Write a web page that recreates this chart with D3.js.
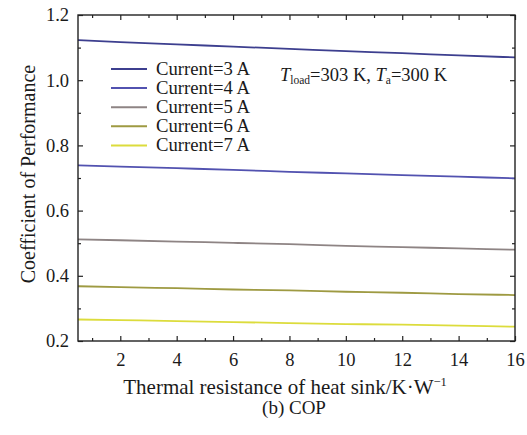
<!DOCTYPE html>
<html>
<head>
<meta charset="utf-8">
<script src="https://cdn.jsdelivr.net/npm/d3@7/dist/d3.min.js"></script>
<style>
  html, body { margin: 0; padding: 0; background: #fff; }
  svg { display: block; }
  svg text { font-family: "Liberation Serif", "Times New Roman", Times, "DejaVu Serif", serif; }
</style>
</head>
<body>
<svg id="chart" width="527" height="435"></svg>
<script>
// Thermal resistance of the heat sink (K/W)
const resistance = [0.5, 2, 4, 6, 8, 10, 12, 14, 16];

// COP for each drive current
const cop3A = [1.123, 1.117, 1.110, 1.103, 1.096, 1.089, 1.083, 1.076, 1.070];
const cop4A = [0.739, 0.735, 0.730, 0.725, 0.719, 0.714, 0.709, 0.704, 0.699];
const cop5A = [0.512, 0.509, 0.505, 0.501, 0.497, 0.492, 0.488, 0.484, 0.480];
const cop6A = [0.368, 0.365, 0.362, 0.358, 0.355, 0.351, 0.348, 0.344, 0.341];
const cop7A = [0.266, 0.264, 0.261, 0.258, 0.255, 0.252, 0.250, 0.247, 0.244];

const seriesNames = ["Current=3 A", "Current=4 A", "Current=5 A", "Current=6 A", "Current=7 A"];
const seriesColors = ["#3d3f8f", "#5252b0", "#8e8484", "#9e9a42", "#dcdc3c"];

const xTicks = [2, 4, 6, 8, 10, 12, 14, 16];
const xMinorTicks = [1, 3, 5, 7, 9, 11, 13, 15];
const yTicks = [0.2, 0.4, 0.6, 0.8, 1.0, 1.2];
const yMinorTicks = [0.3, 0.5, 0.7, 0.9, 1.1];

const series = [cop3A, cop4A, cop5A, cop6A, cop7A].map((vals, i) => ({
  name: seriesNames[i],
  color: seriesColors[i],
  points: resistance.map((r, j) => ({ x: r, y: vals[j] }))
}));

const FONT = "'Liberation Serif', 'Times New Roman', Times, 'DejaVu Serif', serif";

const svg = d3.select("#chart");
const m = { left: 78, right: 12, top: 15, bottom: 94 };
const W = 527, H = 435;
const x0 = m.left, x1 = W - m.right, y0 = H - m.bottom, y1 = m.top;

const x = d3.scaleLinear().domain([0.5, 16]).range([x0, x1]);
const y = d3.scaleLinear().domain([0.2, 1.2]).range([y0, y1]);

const axisColor = "#222";
const fontColor = "#1a1a1a";

// Inward ticks on all four sides
function ticks(g, axis) {
  g.call(axis);
  g.attr("font-family", FONT);
  g.select(".domain").remove();
  g.selectAll("line").attr("stroke", axisColor).attr("stroke-width", 1.2);
}

const bottomMajor = d3.axisBottom(x).tickValues(xTicks).tickSizeInner(-5).tickSizeOuter(0).tickPadding(12).tickFormat(d3.format("d"));
const bottomMinor = d3.axisBottom(x).tickValues(xMinorTicks).tickSize(-3).tickFormat("");
const topMajor = d3.axisTop(x).tickValues(xTicks).tickSize(-5).tickFormat("");
const topMinor = d3.axisTop(x).tickValues(xMinorTicks).tickSize(-3).tickFormat("");
const leftMajor = d3.axisLeft(y).tickValues(yTicks).tickSizeInner(-5).tickSizeOuter(0).tickPadding(9).tickFormat(d3.format(".1f"));
const leftMinor = d3.axisLeft(y).tickValues(yMinorTicks).tickSize(-3).tickFormat("");
const rightMajor = d3.axisRight(y).tickValues(yTicks).tickSize(-5).tickFormat("");
const rightMinor = d3.axisRight(y).tickValues(yMinorTicks).tickSize(-3).tickFormat("");

const gb = svg.append("g").attr("transform", `translate(0,${y0})`);
ticks(gb.append("g"), bottomMajor);
ticks(gb.append("g"), bottomMinor);
const gt = svg.append("g").attr("transform", `translate(0,${y1})`);
ticks(gt.append("g"), topMajor);
ticks(gt.append("g"), topMinor);
const gl = svg.append("g").attr("transform", `translate(${x0},0)`);
ticks(gl.append("g"), leftMajor);
ticks(gl.append("g"), leftMinor);
const gr = svg.append("g").attr("transform", `translate(${x1},0)`);
ticks(gr.append("g"), rightMajor);
ticks(gr.append("g"), rightMinor);

svg.selectAll(".tick text")
  .attr("fill", fontColor)
  .attr("font-size", 18.5);

// Data lines
const line = d3.line().x(d => x(d.x)).y(d => y(d.y)).curve(d3.curveMonotoneX);
svg.append("g").selectAll("path").data(series).join("path")
  .attr("d", d => line(d.points))
  .attr("fill", "none")
  .attr("stroke", d => d.color)
  .attr("stroke-width", 1.8);

// Plot frame
svg.append("rect")
  .attr("x", x0).attr("y", y1)
  .attr("width", x1 - x0).attr("height", y0 - y1)
  .attr("fill", "none").attr("stroke", axisColor).attr("stroke-width", 1.4);

// Legend
const legend = svg.append("g").attr("font-family", FONT);
series.forEach((s, i) => {
  const ly = 69 + i * 19.1;
  legend.append("line")
    .attr("x1", 111).attr("x2", 147).attr("y1", ly).attr("y2", ly)
    .attr("stroke", s.color).attr("stroke-width", 2);
  legend.append("text")
    .attr("x", 156).attr("y", ly + 6)
    .attr("fill", fontColor)
    .attr("font-size", 18.7)
    .text(s.name);
});

// Operating conditions
const note = svg.append("text")
  .attr("x", 280).attr("y", 81)
  .attr("fill", fontColor)
  .attr("font-family", FONT)
  .attr("font-size", 18.5);
note.append("tspan").attr("font-style", "italic").text("T");
note.append("tspan").attr("dy", 3).attr("font-size", 11.5).text("load");
note.append("tspan").attr("dy", -3).text("=303 K, ");
note.append("tspan").attr("font-style", "italic").text("T");
note.append("tspan").attr("dy", 3).attr("font-size", 11.5).text("a");
note.append("tspan").attr("dy", -3).text("=300 K");

// Axis titles
svg.append("text")
  .attr("transform", `translate(35,174) rotate(-90)`)
  .attr("text-anchor", "middle")
  .attr("fill", fontColor)
  .attr("font-family", FONT)
  .attr("font-size", 20)
  .text("Coefficient of Performance");

const xt = svg.append("text")
  .attr("x", 285).attr("y", 394)
  .attr("text-anchor", "middle")
  .attr("fill", fontColor)
  .attr("font-family", FONT)
  .attr("font-size", 21);
xt.append("tspan").text("Thermal resistance of heat sink/K\u00b7W");
xt.append("tspan").attr("dy", -8).attr("font-size", 12.5).text("\u22121");

svg.append("text")
  .attr("x", 294).attr("y", 414)
  .attr("text-anchor", "middle")
  .attr("fill", fontColor)
  .attr("font-family", FONT)
  .attr("font-size", 19)
  .text("(b) COP");
</script>
</body>
</html>
